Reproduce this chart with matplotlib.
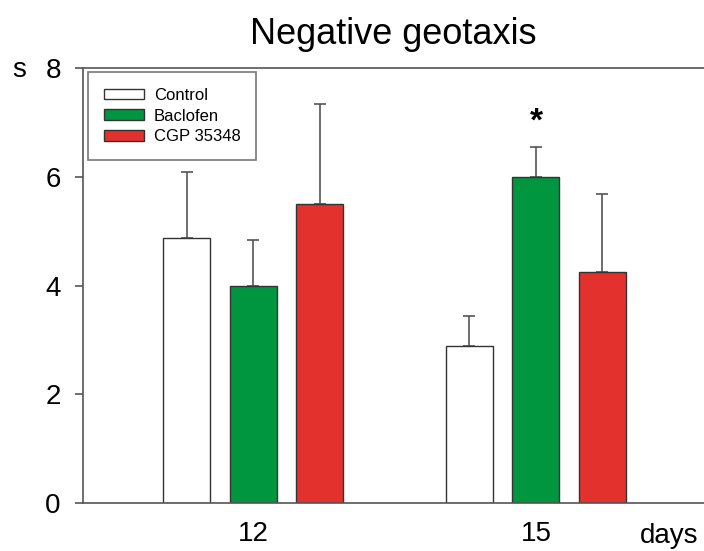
import numpy as np
import matplotlib
matplotlib.use("Agg")
import matplotlib.pyplot as plt

plt.rcParams["font.family"] = ["Liberation Sans", "DejaVu Sans"]

# data
days = ["12", "15"]
groups = ["Control", "Baclofen", "CGP 35348"]
colors = ["#ffffff", "#00963f", "#e3312d"]
means = {
    "Control": [4.88, 2.88],
    "Baclofen": [4.0, 6.0],
    "CGP 35348": [5.5, 4.25],
}
errs = {
    "Control": [1.2, 0.55],
    "Baclofen": [0.83, 0.55],
    "CGP 35348": [1.83, 1.43],
}
signif = {"Baclofen": [False, True]}

edge = "#333333"
spine = "#555555"

fig = plt.figure(figsize=(7.04, 5.51), dpi=100)
ax = fig.add_axes([0.118, 0.0871, 0.882, 0.7895])

x = np.arange(1, len(days) + 1)
offset = 0.235
width = 0.166

for i, g in enumerate(groups):
    pos = x + (i - 1) * offset
    ax.bar(pos, means[g], width, color=colors[i], edgecolor=edge,
           linewidth=1.0, label=g, zorder=2)
    ax.errorbar(pos, means[g], yerr=[np.zeros(len(days)), errs[g]],
                fmt="none", ecolor=spine, elinewidth=1.2, capsize=4.5,
                capthick=1.2, zorder=1)
    for j, s in enumerate(signif.get(g, [])):
        if s:
            ax.text(pos[j], means[g][j] + errs[g][j] + 0.45, "*",
                    ha="center", va="center", fontsize=24, fontweight="bold")

ax.set_xlim(0.399, 2.594)
ax.set_ylim(0, 8)
ax.set_yticks([0, 2, 4, 6, 8])
ax.set_xticks(x)
ax.set_xticklabels(days)
ax.tick_params(axis="y", length=6, width=1.2, color=spine, labelsize=20, pad=10)
ax.tick_params(axis="x", length=0, labelsize=20, pad=13)

for side in ["left", "bottom", "top"]:
    ax.spines[side].set_color(spine)
    ax.spines[side].set_linewidth(1.2)
ax.spines["right"].set_visible(False)

ax.set_title("Negative geotaxis", fontsize=26, pad=17)
fig.text(0.027, 0.860, "s", fontsize=20, ha="center", va="baseline")
fig.text(0.950, 0.027, "days", fontsize=20, ha="center", va="center")

leg = ax.legend(loc="upper left", bbox_to_anchor=(0.008, 0.991), fontsize=12,
                frameon=True, fancybox=False, edgecolor=spine,
                handlelength=2.4, handleheight=0.6, borderpad=0.95,
                labelspacing=0.35, handletextpad=0.6, borderaxespad=0)
leg.get_frame().set_linewidth(1.2)

fig.savefig("out.png", dpi=100)
